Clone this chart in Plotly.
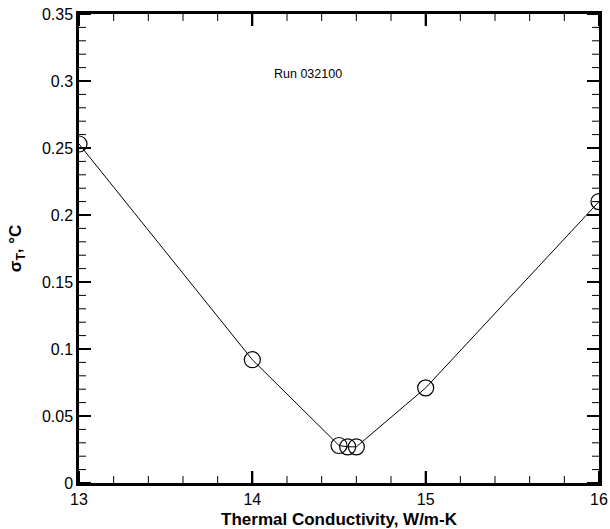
import numpy as np
import plotly.graph_objects as go

# Temperature standard deviation vs assumed thermal conductivity
conductivity = [13.0, 14.0, 14.5, 14.55, 14.6, 15.0, 16.0]
sigma_t = [0.253, 0.092, 0.028, 0.027, 0.027, 0.071, 0.210]

X_RANGE = (13.0, 16.0)
Y_RANGE = (0.0, 0.35)
X_MAJOR, X_MINOR = 1.0, 0.2
Y_MAJOR, Y_MINOR = 0.05, 0.01

WIDTH, HEIGHT = 610, 529
MARGIN = dict(l=79, r=11, t=14, b=46)
PLOT_W = WIDTH - MARGIN["l"] - MARGIN["r"]
PLOT_H = HEIGHT - MARGIN["t"] - MARGIN["b"]
PX_X = (X_RANGE[1] - X_RANGE[0]) / PLOT_W   # data units per pixel, x
PX_Y = (Y_RANGE[1] - Y_RANGE[0]) / PLOT_H   # data units per pixel, y
MAJOR_LEN, MINOR_LEN = 12, 7                # tick lengths in pixels


def tick_segments(major):
    """Inward tick marks on all four frame sides, as None-separated segments."""
    xs, ys = [], []
    for v in np.arange(X_RANGE[0], X_RANGE[1] + 1e-9, X_MINOR):
        if (abs(v / X_MAJOR - round(v / X_MAJOR)) < 1e-6) != major:
            continue
        ln = (MAJOR_LEN if major else MINOR_LEN) * PX_Y
        xs += [v, v, None, v, v, None]
        ys += [Y_RANGE[0], Y_RANGE[0] + ln, None, Y_RANGE[1], Y_RANGE[1] - ln, None]
    for v in np.arange(Y_RANGE[0], Y_RANGE[1] + 1e-9, Y_MINOR):
        if (abs(v / Y_MAJOR - round(v / Y_MAJOR)) < 1e-6) != major:
            continue
        ln = (MAJOR_LEN if major else MINOR_LEN) * PX_X
        xs += [X_RANGE[0], X_RANGE[0] + ln, None, X_RANGE[1], X_RANGE[1] - ln, None]
        ys += [v, v, None, v, v, None]
    return xs, ys


fig = go.Figure()

for major, w in ((True, 2), (False, 1)):
    tx, ty = tick_segments(major)
    fig.add_trace(go.Scatter(x=tx, y=ty, mode="lines", line=dict(color="black", width=w),
                             hoverinfo="skip", showlegend=False))

fig.add_trace(go.Scatter(
    x=conductivity, y=sigma_t, mode="lines+markers",
    line=dict(color="black", width=1),
    marker=dict(symbol="circle-open", size=16, color="black", line=dict(width=1.2)),
    showlegend=False,
))

fig.add_annotation(text="Run 032100", x=14.32, y=0.305, xref="x", yref="y",
                   showarrow=False, font=dict(size=12.5, color="black", family="Liberation Sans"))

axis_common = dict(
    showgrid=False, zeroline=False, showline=True, linecolor="black", linewidth=2.5,
    mirror="allticks", ticks="inside", ticklen=MAJOR_LEN, tickwidth=2, tickcolor="black",
    tickfont=dict(size=16, color="black", family="Liberation Sans"),
    automargin=False,
)

fig.update_xaxes(
    range=list(X_RANGE), tickmode="linear", tick0=13, dtick=X_MAJOR,
    title=dict(text="<b>Thermal Conductivity, W/m-K</b>", standoff=8,
               font=dict(size=17, color="black", family="Liberation Sans")),
    **axis_common,
)
fig.update_yaxes(
    range=list(Y_RANGE), tickmode="linear", tick0=0, dtick=Y_MAJOR,
    title=dict(text="<b>σ<sub>T</sub>, °C</b>", standoff=16,
               font=dict(size=17, color="black", family="Liberation Sans")),
    **axis_common,
)

fig.update_layout(
    template="simple_white",
    width=WIDTH, height=HEIGHT,
    margin=MARGIN,
    paper_bgcolor="white", plot_bgcolor="white",
)

fig.write_html("out.html")
